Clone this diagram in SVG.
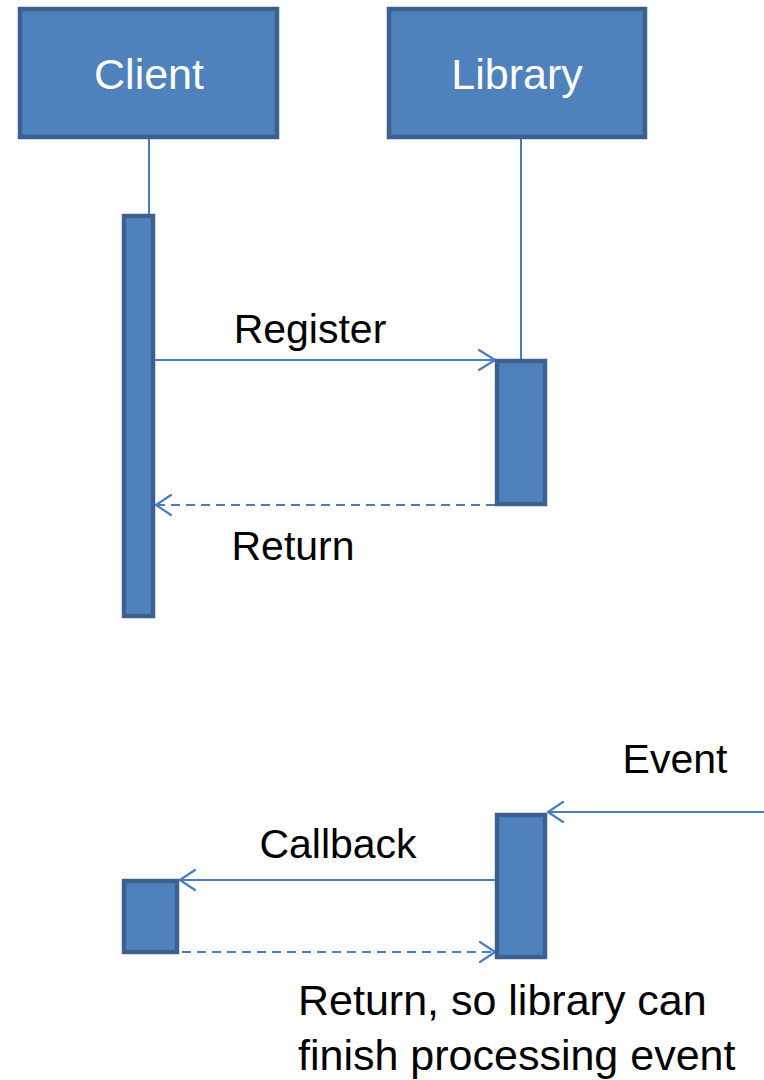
<svg xmlns="http://www.w3.org/2000/svg" width="764" height="1080" viewBox="0 0 764 1080">
  <style>
    .box { fill: #4f81bd; stroke: #3c6190; stroke-width: 4.5; }
    .act { fill: #4f81bd; stroke: #3c6190; stroke-width: 4.5; }
    .life { stroke: #4a7ebb; stroke-width: 2; fill: none; }
    .msg { stroke: #4a7ebb; stroke-width: 2.2; fill: none; }
    .dash { stroke-dasharray: 9 6; }
    .head { stroke: #4a7ebb; stroke-width: 2.2; fill: none; stroke-linecap: round; stroke-linejoin: round; }
    .title { font-family: "Liberation Sans", Arial, sans-serif; font-size: 43px; fill: #ffffff; text-anchor: middle; }
    .label { font-family: "Liberation Sans", Arial, sans-serif; font-size: 41px; fill: #000000; }
    .note { font-size: 43px; }
  </style>
  <rect width="764" height="1080" fill="#ffffff"/>

  <!-- lifelines and messages -->
  <g id="connectors">
    <line class="life" x1="149" y1="138" x2="149" y2="215"/>
    <line class="life" x1="521" y1="138" x2="521" y2="360"/>

    <!-- Register -->
    <line class="msg" x1="154" y1="360" x2="495" y2="360"/>
    <polyline class="head" points="479,350 495,360 479,370"/>

    <!-- Return -->
    <line class="msg dash" x1="495" y1="505" x2="156" y2="505"/>
    <polyline class="head" points="171,495 156,505 171,515"/>

    <!-- Event -->
    <line class="msg" x1="764" y1="812" x2="548" y2="812"/>
    <polyline class="head" points="563,802 548,812 563,822"/>

    <!-- Callback -->
    <line class="msg" x1="495" y1="880" x2="180" y2="880"/>
    <polyline class="head" points="195,870 180,880 195,890"/>

    <!-- Return to library -->
    <line class="msg dash" x1="182" y1="952" x2="495" y2="952"/>
    <polyline class="head" points="480,942 495,952 480,962"/>
  </g>

  <g id="client">
    <rect class="box" x="20" y="9" width="257" height="128"/>
    <text class="title" x="149" y="89">Client</text>
  </g>

  <g id="library">
    <rect class="box" x="389" y="9" width="256" height="128"/>
    <text class="title" x="517" y="89">Library</text>
  </g>

  <g id="client-activation-1">
    <rect class="act" x="124" y="216" width="29" height="400"/>
  </g>

  <g id="library-activation-1">
    <rect class="act" x="497" y="361" width="48" height="143"/>
  </g>

  <g id="client-activation-2">
    <rect class="act" x="124" y="881" width="53" height="71"/>
  </g>

  <g id="library-activation-2">
    <rect class="act" x="497" y="815" width="48" height="142"/>
  </g>

  <g id="labels">
    <text class="label" x="310" y="343" text-anchor="middle">Register</text>
    <text class="label" x="293" y="560" text-anchor="middle">Return</text>
    <text class="label" x="675" y="773" text-anchor="middle">Event</text>
    <text class="label" x="338" y="858" text-anchor="middle">Callback</text>
    <text class="label note" x="298" y="1015">Return, so library can</text>
    <text class="label note" x="298" y="1070">finish processing event</text>
  </g>
</svg>
